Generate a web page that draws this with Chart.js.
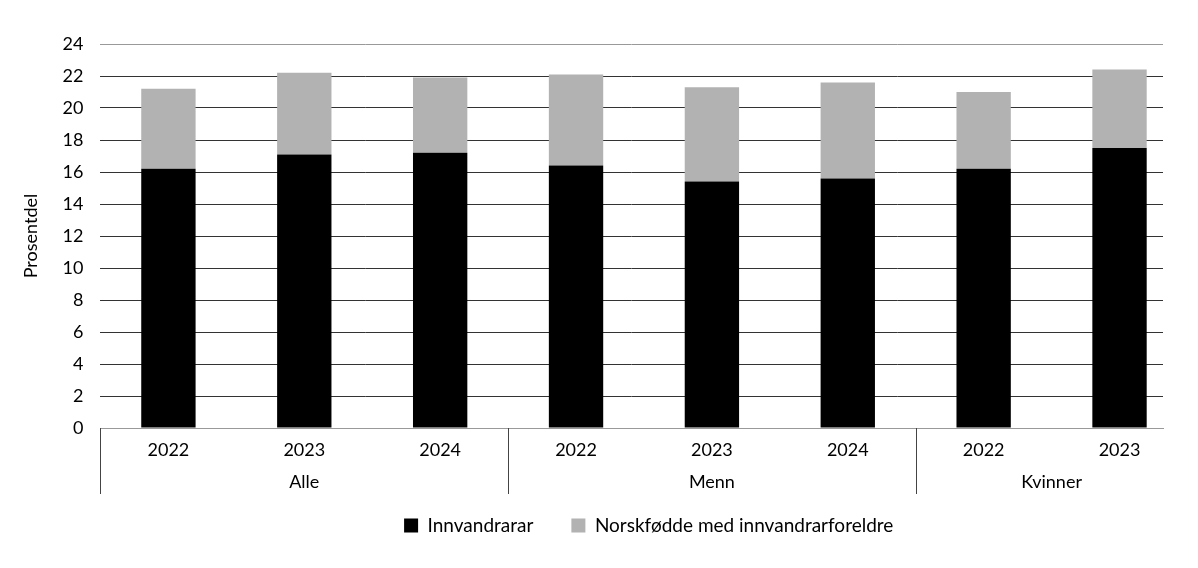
<!DOCTYPE html>
<html>
<head>
<meta charset="utf-8">
<script src="https://cdn.jsdelivr.net/npm/chart.js@4/dist/chart.umd.min.js"></script>
<style>
  html, body { margin: 0; padding: 0; background: #fff; }
  #wrap { width: 1198px; height: 568px; }
</style>
</head>
<body>
<div id="wrap"><canvas id="c" width="1198" height="568"></canvas></div>
<script>
// ---- data ----
const years = ['2022', '2023', '2024', '2022', '2023', '2024', '2022', '2023'];
const groupNames = ['Alle', 'Menn', 'Kvinner'];
const groupSizes = [3, 3, 2];
const innvandrarar = [16.2, 17.1, 17.2, 16.4, 15.4, 15.6, 16.2, 17.5];
const norskfodde   = [5.0, 5.1, 4.7, 5.7, 5.9, 6.0, 4.8, 4.9];
const yTicks = [0, 2, 4, 6, 8, 10, 12, 14, 16, 18, 20, 22, 24];
const seriesNames = ['Innvandrarar', 'Norskfødde med innvandrarforeldre'];

const FONT = 'Lato';
const FSIZE = 18;

const groupPlugin = {
  id: 'groupLabels',
  afterDraw(chart) {
    const x = chart.scales.x;
    const ctx = chart.ctx;
    const axisY = chart.chartArea.bottom;
    ctx.save();
    ctx.font = FSIZE + 'px ' + FONT;
    ctx.fillStyle = '#000';
    ctx.textAlign = 'center';
    ctx.textBaseline = 'middle';
    let start = 0;
    const seps = [-0.5];
    groupNames.forEach((name, g) => {
      const end = start + groupSizes[g] - 1;
      const cx = (x.getPixelForValue(start - 0.5) + x.getPixelForValue(end + 0.5)) / 2;
      ctx.fillText(name, cx, axisY + 54);
      seps.push(end + 0.5);
      start = end + 1;
    });
    ctx.strokeStyle = '#444';
    ctx.lineWidth = 1;
    seps.slice(0, groupNames.length).forEach(v => {
      const px = Math.round(x.getPixelForValue(v)) + 0.5;
      ctx.beginPath();
      ctx.moveTo(px, axisY);
      ctx.lineTo(px, axisY + 66);
      ctx.stroke();
    });
    ctx.restore();
  }
};

const legendShift = {
  id: 'legendShift',
  afterLayout(chart) {
    const lg = chart.legend;
    if (lg) { lg.left += 17; lg.right += 17; }
  }
};

new Chart(document.getElementById('c'), {
  type: 'bar',
  data: {
    datasets: [
      {
        label: seriesNames[0],
        data: innvandrarar.map((v, i) => ({ x: i, y: v })),
        backgroundColor: '#000000',
        borderWidth: 0
      },
      {
        label: seriesNames[1],
        data: norskfodde.map((v, i) => ({ x: i, y: v })),
        backgroundColor: '#b2b2b2',
        borderWidth: 0
      }
    ]
  },
  options: {
    responsive: false,
    animation: false,
    devicePixelRatio: 1,
    layout: { padding: { top: 44, right: 35, left: 0, bottom: 23 } },
    datasets: { bar: { barPercentage: 0.4, categoryPercentage: 1 } },
    scales: {
      x: {
        type: 'linear',
        stacked: true,
        min: -0.5,
        max: 7.32,
        offset: false,
        afterBuildTicks(scale) { scale.ticks = years.map((_, i) => ({ value: i })); },
        afterFit(scale) { scale.height = 50; },
        grid: { display: false, drawTicks: false },
        border: { display: true, color: '#999', width: 1 },
        ticks: {
          autoSkip: false,
          maxRotation: 0,
          padding: 11,
          color: '#000',
          font: { family: FONT, size: FSIZE },
          callback: (v) => years[v]
        }
      },
      y: {
        stacked: true,
        min: 0,
        max: 24,
        afterBuildTicks(scale) { scale.ticks = yTicks.map(v => ({ value: v })); },
        grid: {
          drawTicks: false,
          color: (c) => (c.tick && (c.tick.value === 24 || c.tick.value === 0)) ? '#999' : '#333',
          lineWidth: 1
        },
        border: { display: false },
        ticks: {
          padding: 17,
          color: '#000',
          font: { family: FONT, size: FSIZE }
        },
        title: {
          display: true,
          text: 'Prosentdel',
          color: '#000',
          font: { family: FONT, size: FSIZE },
          padding: { top: 20, bottom: 4 }
        }
      }
    },
    plugins: {
      legend: {
        position: 'bottom',
        fullSize: false,
        labels: {
          boxWidth: 14,
          boxHeight: 14,
          padding: 38,
          color: '#000',
          font: { family: FONT, size: 19 }
        }
      },
      tooltip: { enabled: false }
    }
  },
  plugins: [groupPlugin, legendShift]
});
</script>
</body>
</html>
